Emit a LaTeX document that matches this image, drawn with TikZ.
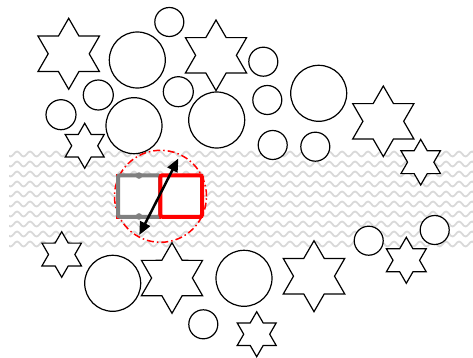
\documentclass[tikz,border=0pt]{standalone}
\usetikzlibrary{shapes.geometric,arrows.meta,decorations.pathmorphing}
\begin{document}
\begin{tikzpicture}[x=1pt,y=-1pt,
  hexstar/.style={star, star points=6, star point ratio=1.732, draw=black, fill=white, line width=1.2pt, inner sep=0pt, minimum size=#1},
  ring/.style={circle, draw=black, fill=white, line width=1.2pt, inner sep=0pt, minimum size=#1},
  wave/.style={draw=black!15, line width=1.8pt, decorate, decoration={snake, amplitude=2.5pt, segment length=13pt}}]
\useasboundingbox (0,0) rectangle (473,358);
% patterned band
\begin{scope}
\clip (9,150) rectangle (473,247);
\foreach \yy in {154,164,...,254} {
  \draw[wave] (0,\yy) -- (480,\yy);
}
\end{scope}
% stars
\node[hexstar=71] (s1) at (68.7,53.8) {};
\node[hexstar=70.6] (s2) at (216,55.3) {};
\node[hexstar=45] (s3) at (84.7,145.8) {};
\node[hexstar=70.6] (s4) at (383.3,121.3) {};
\node[hexstar=45.6] (s5) at (420.7,162.2) {};
\node[hexstar=45.6] (s6) at (61.7,254.5) {};
\node[hexstar=70.6] (s7) at (172,278) {};
\node[hexstar=71] (s8) at (314,276.2) {};
\node[hexstar=46] (s9) at (406.3,260.3) {};
\node[hexstar=45] (s10) at (256.7,334.2) {};
% circles
\node[ring=29] (c1) at (169.3,22) {};
\node[ring=56] (c2) at (137.3,60) {};
\node[ring=30] (c3) at (98.3,95) {};
\node[ring=30] (c4) at (61,114.7) {};
\node[ring=56] (c5) at (134,125.7) {};
\node[ring=30] (c6) at (178.3,91.7) {};
\node[ring=56] (c7) at (216.7,120) {};
\node[ring=29] (c8) at (263.3,61.7) {};
\node[ring=29] (c9) at (267.3,100) {};
\node[ring=56] (c10) at (318.7,93.3) {};
\node[ring=29] (c11) at (272.7,145) {};
\node[ring=29] (c12) at (315.3,146.7) {};
\node[ring=56] (c13) at (112.7,283.3) {};
\node[ring=29] (c14) at (203.3,324.3) {};
\node[ring=56] (c15) at (244,278.3) {};
\node[ring=29] (c16) at (368.7,240.7) {};
\node[ring=29] (c17) at (434.7,230) {};
% central element
\node[circle, draw=red, line width=1.5pt, dash pattern=on 7pt off 3pt on 1.5pt off 3pt, inner sep=0pt, minimum size=92] (focus) at (160.5,196.3) {};
\draw[red, line width=0.7pt] (116,174.3) rectangle (160,218);
\node[draw=gray, fill=white, line width=4pt, rounded corners=2pt, inner sep=0pt, minimum width=42, minimum height=41.5] (grey) at (139,196) {};
\fill[gray] ([yshift=-2.3pt]grey.north) circle[radius=3.3];
\fill[gray] ([yshift=2.3pt]grey.south) circle[radius=3.3];
\node[draw=red, fill=white, line width=4pt, rounded corners=2pt, inner sep=0pt, minimum width=41.7, minimum height=41.5] (redbox) at (181.2,196) {};
\coordinate (a1) at (139.3,235);
\coordinate (a2) at (178.3,158.5);
\draw[line width=2.5pt, {Triangle[length=13pt,width=11pt]}-{Triangle[length=13pt,width=11pt]}] (a1) -- (a2);
\end{tikzpicture}
\end{document}
